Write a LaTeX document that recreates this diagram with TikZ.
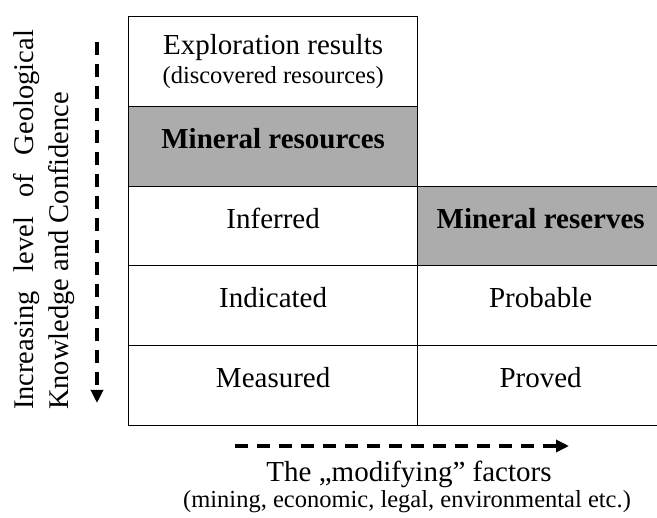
\documentclass[tikz,border=0pt]{standalone}
\usepackage{fontspec}
\setmainfont{Liberation Serif}
\usetikzlibrary{arrows.meta}
\definecolor{shade}{RGB}{172,172,172}
\tikzset{
  cell/.style={draw=black, line width=1.3pt, inner sep=0pt, anchor=north west,
    text height=20pt, text depth=16pt, font=\fontsize{29}{34}\selectfont},
  leftcell/.style={cell, minimum width=289pt},
  rightcell/.style={cell, minimum width=246pt},
  shaded/.style={fill=shade, font=\fontsize{29}{34}\selectfont\bfseries},
  darrow/.style={line width=3.2pt, dash pattern=on 13pt off 9pt,
    -{Triangle[length=13pt,width=12pt]}},
  sidetext/.style={rotate=90, align=left, inner sep=0pt,
    font=\fontsize{28.5}{35}\selectfont},
}
\begin{document}
\begin{tikzpicture}[x=1pt,y=1pt]
\useasboundingbox (0,0) rectangle (657,-518);
\clip (0,0) rectangle (657,-518);
\fill[white] (0,0) rectangle (657,-518);
% left column
\node[leftcell, minimum height=90pt, text height=, text depth=, align=center,
  font=\fontsize{29}{29}\selectfont] (expl) at (128,-16)
  {Exploration results\\{\fontsize{24.5}{29}\selectfont (discovered resources)}};
\node[leftcell, shaded, minimum height=80pt] (res) at (128,-106) {Mineral resources};
\node[leftcell, minimum height=79pt] (inf) at (128,-186) {Inferred};
\node[leftcell, minimum height=80pt] (ind) at (128,-265) {Indicated};
\node[leftcell, minimum height=80pt] (mea) at (128,-345) {Measured};
% right column
\node[rightcell, shaded, minimum height=79pt] (rsv) at (417,-186) {Mineral reserves};
\node[rightcell, minimum height=80pt] (prb) at (417,-265) {Probable};
\node[rightcell, minimum height=80pt] (prv) at (417,-345) {Proved};
% vertical axis
\node[sidetext] (vlab) at (44,-220)
  {\makebox[380pt][s]{Increasing level of Geological}\\Knowledge and Confidence};
\coordinate (vs) at (97,-42);
\coordinate (ve) at (97,-403);
\draw[darrow] (vs) -- (ve);
% horizontal axis
\coordinate (hs) at (235,-446);
\coordinate (he) at (569,-446);
\draw[darrow] (hs) -- (he);
\node[anchor=base, inner sep=0pt, font=\fontsize{29}{34}\selectfont] (mod) at (409,-482)
  {The „modifying” factors};
\node[anchor=base, inner sep=0pt, font=\fontsize{24.5}{29}\selectfont] (fac) at (407,-508)
  {(mining, economic, legal, environmental etc.)};
\end{tikzpicture}
\end{document}
